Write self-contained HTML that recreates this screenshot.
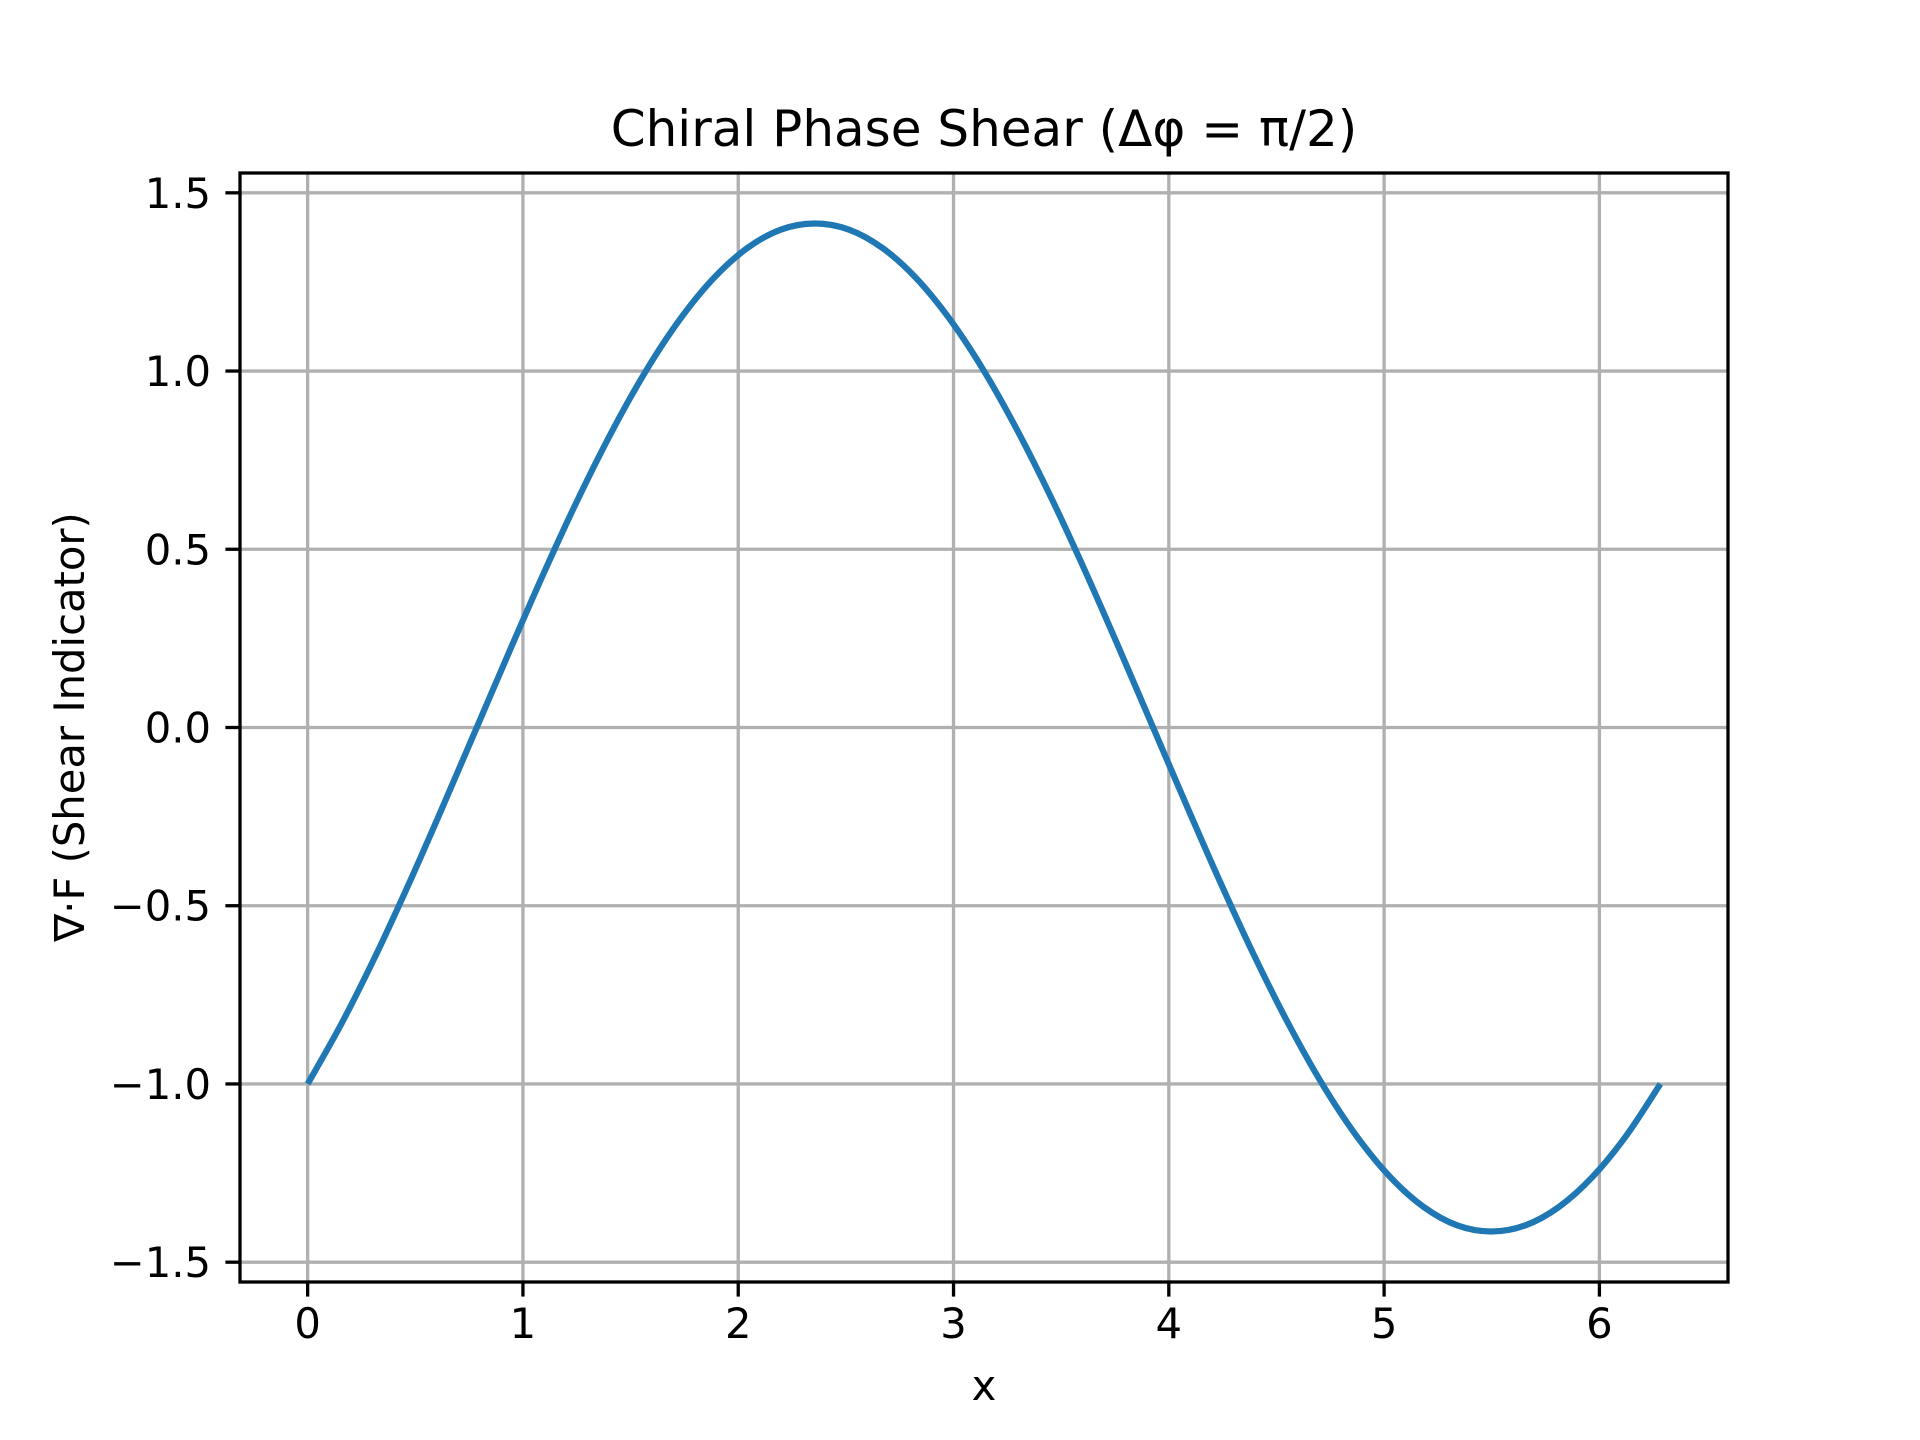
<!DOCTYPE html>
<html>
<head>
<meta charset="utf-8">
<style>
  html, body { margin: 0; padding: 0; background: #ffffff; }
  svg { display: block; }
  text { font-family: "DejaVu Sans", "Liberation Sans", sans-serif; fill: #000; }
</style>
</head>
<body>
<svg id="chart" width="1920" height="1440" viewBox="0 0 1920 1440" xmlns="http://www.w3.org/2000/svg">
  <rect x="0" y="0" width="1920" height="1440" fill="#ffffff"/>
  <g id="grid"></g>
  <g id="series"></g>
  <rect x="240" y="173" width="1488" height="1109" fill="none" stroke="#000" stroke-width="3.3"/>
  <g id="ticks"></g>
  <text x="984" y="146" font-size="50" text-anchor="middle">Chiral Phase Shear (Δφ = π/2)</text>
  <text x="984" y="1400" font-size="41.7" text-anchor="middle">x</text>
  <text x="0" y="0" font-size="41.7" text-anchor="middle" transform="translate(84,727) rotate(-90)">∇·F (Shear Indicator)</text>
</svg>
<script>
const xValues = [0,0.1571,0.3142,0.4712,0.6283,0.7854,0.9425,1.0996,1.2566,1.4137,1.5708,1.7279,1.885,2.042,2.1991,2.3562,2.5133,2.6704,2.8274,2.9845,3.1416,3.2987,3.4558,3.6128,3.7699,3.927,4.0841,4.2412,4.3982,4.5553,4.7124,4.8695,5.0265,5.1836,5.3407,5.4978,5.6549,5.812,5.969,6.1261,6.2832];
const yValues = [-1,-0.831,-0.642,-0.437,-0.221,0,0.221,0.437,0.642,0.831,1,1.144,1.26,1.345,1.397,1.414,1.397,1.345,1.26,1.144,1,0.831,0.642,0.437,0.221,0,-0.221,-0.437,-0.642,-0.831,-1,-1.144,-1.26,-1.345,-1.397,-1.414,-1.397,-1.345,-1.26,-1.144,-1];
const xTicks = [0,1,2,3,4,5,6];
const xTickLabels = ["0","1","2","3","4","5","6"];
const yTicks = [-1.5,-1.0,-0.5,0.0,0.5,1.0,1.5];
const yTickLabels = ["\u22121.5","\u22121.0","\u22120.5","0.0","0.5","1.0","1.5"];

const L = 240, R = 1728, T = 173, B = 1282;
const xMin = -0.3142, xMax = 6.5973, yMin = -1.5556, yMax = 1.5556;
function sx(v) { return L + (v - xMin) / (xMax - xMin) * (R - L); }
function sy(v) { return B - (v - yMin) / (yMax - yMin) * (B - T); }
const NS = "http://www.w3.org/2000/svg";
const grid = document.getElementById('grid');
const ticks = document.getElementById('ticks');
const series = document.getElementById('series');
function mk(tag, attrs, parent) {
  const e = document.createElementNS(NS, tag);
  for (const k in attrs) e.setAttribute(k, attrs[k]);
  parent.appendChild(e);
  return e;
}
xTicks.forEach((t, i) => {
  const x = sx(t);
  const g = mk('line', {x1: x, x2: x, y1: T, y2: B, stroke: '#b0b0b0', 'stroke-width': 3.3}, grid);
  
  
  const tk = mk('line', {x1: x, x2: x, y1: B, y2: B + 14.6, stroke: '#000', 'stroke-width': 3.3}, ticks);
  
  
  const lb = mk('text', {x: x, y: B + 56, 'font-size': 41.7, 'text-anchor': 'middle'}, ticks);
  lb.textContent = xTickLabels[i];
  
  
});
yTicks.forEach((t, i) => {
  const y = sy(t);
  const g = mk('line', {x1: L, x2: R, y1: y, y2: y, stroke: '#b0b0b0', 'stroke-width': 3.3}, grid);
  
  
  const tk = mk('line', {x1: L - 14.6, x2: L, y1: y, y2: y, stroke: '#000', 'stroke-width': 3.3}, ticks);
  
  
  const lb = mk('text', {x: L - 29, y: y + 15, 'font-size': 41.7, 'text-anchor': 'end'}, ticks);
  lb.textContent = yTickLabels[i];
  
  
});
const pts = xValues.map((x, i) => [sx(x), sy(yValues[i])]);
let d = 'M' + pts[0][0].toFixed(2) + ',' + pts[0][1].toFixed(2);
for (let i = 0; i < pts.length - 1; i++) {
  const p0 = pts[Math.max(0, i - 1)], p1 = pts[i], p2 = pts[i + 1], p3 = pts[Math.min(pts.length - 1, i + 2)];
  const c1 = [p1[0] + (p2[0] - p0[0]) / 6, p1[1] + (p2[1] - p0[1]) / 6];
  const c2 = [p2[0] - (p3[0] - p1[0]) / 6, p2[1] - (p3[1] - p1[1]) / 6];
  d += ' C' + c1[0].toFixed(2) + ',' + c1[1].toFixed(2) + ' ' + c2[0].toFixed(2) + ',' + c2[1].toFixed(2) + ' ' + p2[0].toFixed(2) + ',' + p2[1].toFixed(2);
}
const line = mk('path', {d: d, fill: 'none', stroke: '#1f77b4', 'stroke-width': 6.2, 'stroke-linejoin': 'round'}, series);


</script>
</body>
</html>
